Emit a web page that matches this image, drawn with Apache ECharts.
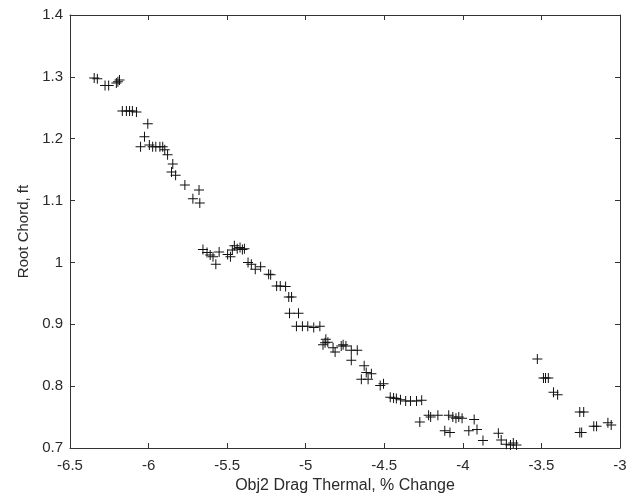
<!DOCTYPE html>
<html>
<head>
<meta charset="utf-8">
<script src="https://cdn.jsdelivr.net/npm/echarts@6/dist/echarts.min.js"></script>
<style>html,body{margin:0;padding:0;background:#fff}#c{width:632px;height:496px}</style>
</head>
<body>
<div id="c"></div>
<script>
const dragX = [-6.346,-6.326,-6.277,-6.254,-6.205,-6.185,-6.195,
-6.167,-6.141,-6.121,-6.103,-6.077,-6.005,-6.026,-6.051,-5.995,-5.974,-5.954,-5.928,-5.910,-5.897,-5.879,-5.846,-5.854,-5.828,-5.769,-5.718,-5.679,-5.674,
-5.654,-5.628,-5.608,-5.590,-5.572,-5.551,-5.497,-5.479,-5.467,-5.454,-5.436,-5.418,-5.403,-5.390,-5.367,-5.346,-5.321,-5.287,-5.236,-5.223,-5.185,-5.162,-5.128,-5.108,-5.090,-5.103,-5.046,-5.059,-5.021,-4.987,-4.949,-4.910,
-4.872,-4.877,-4.890,-4.859,-4.826,-4.813,-4.774,-4.762,-4.744,-4.710,-4.672,-4.710,-4.628,-4.615,-4.646,-4.603,-4.582,-4.526,-4.505,
-4.462,-4.441,-4.423,-4.397,-4.364,-4.333,-4.295,-4.262,-4.274,-4.218,-4.205,-4.159,-4.090,-4.064,-4.044,-4.026,-4.005,-4.115,-4.082,-3.962,-3.928,-3.910,-3.872,-3.774,-3.756,-3.723,-3.697,-3.679,-3.659,
-3.526,-3.487,-3.474,-3.456,-3.423,-3.397,-3.256,-3.231,-3.256,-3.244,-3.167,-3.149,-3.077,-3.056];
const chordY = [1.298,1.297,1.286,1.286,1.290,1.295,1.292,
1.245,1.245,1.245,1.245,1.243,1.224,1.203,1.187,1.190,1.187,1.187,1.187,1.187,1.182,1.174,1.159,1.146,1.141,1.125,1.103,1.117,1.096,
1.021,1.016,1.012,1.009,0.997,1.017,1.013,1.009,1.020,1.027,1.022,1.024,1.021,1.022,1.000,0.997,0.989,0.993,0.981,0.980,0.962,0.962,0.961,0.944,0.944,0.918,0.918,0.897,0.897,0.897,0.895,0.897,
0.876,0.870,0.867,0.871,0.862,0.855,0.865,0.867,0.865,0.858,0.858,0.842,0.833,0.822,0.811,0.811,0.820,0.801,0.804,
0.782,0.781,0.780,0.778,0.776,0.776,0.776,0.777,0.742,0.753,0.750,0.753,0.753,0.750,0.748,0.750,0.748,0.728,0.725,0.728,0.746,0.730,0.712,0.724,0.713,0.706,0.705,0.708,0.705,
0.844,0.813,0.813,0.813,0.790,0.786,0.758,0.758,0.725,0.725,0.735,0.735,0.741,0.737];
const xTicks = ['-6.5','-6','-5.5','-5','-4.5','-4','-3.5','-3'];
const yTicks = ['0.7','0.8','0.9','1','1.1','1.2','1.3','1.4'];

const points = dragX.map((x, i) => [x, chordY[i]]);
const font = 'Liberation Sans, Arial, sans-serif';
const axisLine = {show: true, lineStyle: {color: '#333', width: 1}};
const tick = {show: true, inside: true, length: 5, lineStyle: {color: '#333'}};
const chart = echarts.init(document.getElementById('c'));
chart.setOption({
  animation: false,
  grid: {left: 70, right: 12, top: 15, bottom: 48, containLabel: false, outerBoundsMode: 'none'},
  xAxis: [{
    type: 'value', min: -6.5, max: -3, interval: 0.5,
    name: 'Obj2 Drag Thermal, % Change', nameLocation: 'middle', nameGap: 28,
    nameTextStyle: {fontFamily: font, fontSize: 16, color: '#2a2a2a'},
    axisLine, axisTick: tick, splitLine: {show: false},
    axisLabel: {fontFamily: font, fontSize: 15, color: '#2a2a2a', margin: 10,
      formatter: v => xTicks[Math.round((v + 6.5) / 0.5)]}
  }, {
    type: 'value', position: 'top', min: -6.5, max: -3, interval: 0.5,
    axisLine, axisTick: tick, axisLabel: {show: false}, splitLine: {show: false}
  }],
  yAxis: [{
    type: 'value', min: 0.7, max: 1.4, interval: 0.1,
    name: 'Root Chord, ft', nameLocation: 'middle', nameGap: 39,
    nameTextStyle: {fontFamily: font, fontSize: 15, color: '#2a2a2a'},
    axisLine, axisTick: tick, splitLine: {show: false},
    axisLabel: {fontFamily: font, fontSize: 15, color: '#2a2a2a', margin: 7,
      formatter: v => yTicks[Math.round((v - 0.7) / 0.1)]}
  }, {
    type: 'value', position: 'right', min: 0.7, max: 1.4, interval: 0.1,
    axisLine, axisTick: tick, axisLabel: {show: false}, splitLine: {show: false}
  }],
  series: [{
    type: 'scatter',
    data: points,
    symbol: 'path://M0,4.5h10v1h-10z M4.5,0h1v10h-1z',
    symbolSize: 10,
    itemStyle: {color: '#111', opacity: 1},
    silent: true
  }]
});
</script>
</body>
</html>
